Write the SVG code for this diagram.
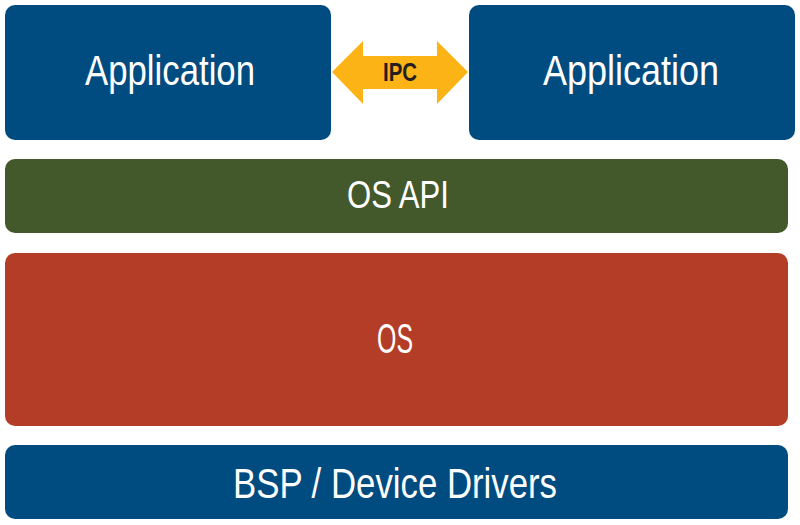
<svg xmlns="http://www.w3.org/2000/svg" width="800" height="525" viewBox="0 0 800 525">
<style>
.lbl{font-family:"Liberation Sans",Arial,sans-serif;fill:#fff;text-anchor:middle;}
.blue{fill:#004B80;}
.green{fill:#43592B;}
.red{fill:#B33D27;}
.ipc{font-family:"Liberation Sans",Arial,sans-serif;font-weight:bold;fill:#231F20;text-anchor:middle;}
</style>
<rect width="800" height="525" fill="#fff"/>
<g id="app1">
<rect class="blue" x="5" y="5" width="326" height="135" rx="10"/>
<text class="lbl" x="170" y="85" font-size="42" textLength="170" lengthAdjust="spacingAndGlyphs">Application</text>
</g>
<g id="app2">
<rect class="blue" x="469" y="5" width="326" height="135" rx="10"/>
<text class="lbl" x="631" y="85" font-size="42" textLength="176" lengthAdjust="spacingAndGlyphs">Application</text>
</g>
<g id="connectors">
<polygon fill="#FBB316" points="332,72 363,41 363,56 437,56 437,41 468,72 437,104 437,89 363,89 363,104"/>
<text class="ipc" x="400" y="81" font-size="25" textLength="34" lengthAdjust="spacingAndGlyphs">IPC</text>
</g>
<g id="osapi">
<rect class="green" x="5" y="159" width="783" height="74" rx="10"/>
<text class="lbl" x="398" y="208" font-size="39" textLength="102" lengthAdjust="spacingAndGlyphs">OS API</text>
</g>
<g id="os">
<rect class="red" x="5" y="253" width="783" height="173" rx="10"/>
<text class="lbl" x="395" y="353" font-size="42" textLength="36" lengthAdjust="spacingAndGlyphs">OS</text>
</g>
<g id="bsp">
<rect class="blue" x="5" y="445" width="783" height="74" rx="10"/>
<text class="lbl" x="395" y="498" font-size="42" textLength="324" lengthAdjust="spacingAndGlyphs">BSP / Device Drivers</text>
</g>
</svg>
